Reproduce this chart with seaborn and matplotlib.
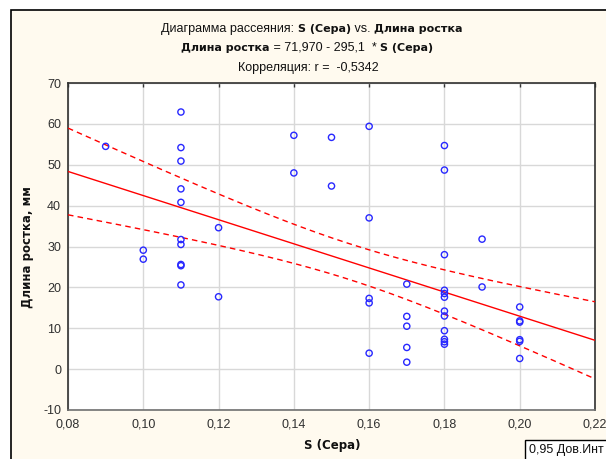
import numpy as np
import pandas as pd
import matplotlib
matplotlib.use("Agg")
import matplotlib.pyplot as plt
import seaborn as sns
from matplotlib.patches import Rectangle
from matplotlib.ticker import FuncFormatter

# ---- data ----
sulfur = [0.09,
          0.10, 0.10,
          0.11, 0.11, 0.11, 0.11, 0.11, 0.11, 0.11, 0.11, 0.11, 0.11,
          0.12, 0.12,
          0.14, 0.14,
          0.15, 0.15,
          0.16, 0.16, 0.16, 0.16, 0.16,
          0.17, 0.17, 0.17, 0.17, 0.17,
          0.18, 0.18, 0.18, 0.18, 0.18, 0.18, 0.18, 0.18, 0.18, 0.18, 0.18, 0.18,
          0.19, 0.19,
          0.20, 0.20, 0.20, 0.20, 0.20, 0.20]
length = [54.5,
          29.1, 26.9,
          62.9, 54.2, 50.9, 44.1, 40.8, 31.7, 30.5, 25.6, 25.3, 20.6,
          34.6, 17.7,
          57.2, 48.0,
          56.7, 44.8,
          59.4, 37.0, 17.3, 16.2, 3.9,
          20.8, 12.9, 10.5, 5.3, 1.7,
          54.7, 48.7, 28.0, 19.3, 18.5, 17.6, 14.2, 13.0, 9.4, 7.3, 6.7, 6.1,
          31.8, 20.1,
          15.2, 11.8, 11.5, 7.2, 6.8, 2.6]
intercept = 71.970
slope = -295.1
t_crit = 2.012  # t(0.975, df=47)
x_ticks = [0.08, 0.10, 0.12, 0.14, 0.16, 0.18, 0.20, 0.22]
y_ticks = [-10, 0, 10, 20, 30, 40, 50, 60, 70]

df = pd.DataFrame({"S": sulfur, "L": length})

# regression line and 95% confidence band
x = np.asarray(sulfur)
y = np.asarray(length)
n = len(x)
resid = y - (intercept + slope * x)
s_err = np.sqrt(np.sum(resid ** 2) / (n - 2))
xbar = x.mean()
sxx = np.sum((x - xbar) ** 2)
xg = np.linspace(x_ticks[0], x_ticks[-1], 200)
yg = intercept + slope * xg
half = t_crit * s_err * np.sqrt(1.0 / n + (xg - xbar) ** 2 / sxx)
lines = pd.DataFrame({"x": xg, "fit": yg, "lo": yg - half, "hi": yg + half})

sns.set_theme(style="white")
plt.rcParams["font.family"] = ["Liberation Sans", "DejaVu Sans"]

W, H = 606, 459
fig = plt.figure(figsize=(W / 100, H / 100), dpi=100)
fig.patch.set_facecolor("white")
cream = "#fffaef"
fig.patches.append(Rectangle((11 / W, -0.1), 1.2, (H - 10) / H + 0.1,
                             transform=fig.transFigure, facecolor=cream,
                             edgecolor="black", linewidth=1.2, zorder=-10))

ax = fig.add_axes([68 / W, 1 - 410 / H, (595 - 68) / W, (410 - 83) / H])
ax.set_facecolor("white")

ax.grid(True, color="#d8d8d8", linewidth=1.0)
ax.set_axisbelow(True)

sns.lineplot(data=lines, x="x", y="fit", ax=ax, color="#ff0000", linewidth=1.0,
             zorder=3)
for col in ["lo", "hi"]:
    sns.lineplot(data=lines, x="x", y=col, ax=ax, color="#ff0000", linewidth=1.0,
                 linestyle=(0, (4, 3)), zorder=3)

sns.scatterplot(data=df, x="S", y="L", ax=ax, marker="o", s=20,
                facecolors="none", edgecolor="#2828ff", linewidth=1.0, zorder=4)

ax.set_xlim(x_ticks[0], x_ticks[-1])
ax.set_ylim(y_ticks[0], y_ticks[-1])
ax.set_xticks(x_ticks)
ax.set_yticks(y_ticks)
ax.xaxis.set_major_formatter(FuncFormatter(lambda v, p: f"{v:.2f}".replace(".", ",")))
ax.yaxis.set_major_formatter(FuncFormatter(lambda v, p: f"{v:.0f}"))
ax.tick_params(axis="both", direction="in", length=3, width=1, color="#333333",
               labelsize=9, labelcolor="#303030", top=True, right=False)
ax.tick_params(axis="x", pad=6)
ax.tick_params(axis="y", pad=5)

for side in ["top", "left", "right"]:
    ax.spines[side].set_color("#303030")
    ax.spines[side].set_linewidth(1.2)
ax.spines["bottom"].set_color("#707070")
ax.spines["bottom"].set_linewidth(1.2)

ax.set_xlabel("")
ax.set_ylabel("")
fig.text(332 / W, 1 - 446 / H, "S (Сера)", ha="center", va="center",
         fontsize=8.5, fontweight="bold", family=["DejaVu Sans"], color="#111111")
fig.text(28 / W, 1 - 247 / H, "Длина ростка, мм", ha="center", va="center",
         rotation=90, fontsize=8.5, fontweight="bold", family=["DejaVu Sans"],
         color="#111111")

# Title lines made of mixed normal/bold pieces
fig.canvas.draw()
renderer = fig.canvas.get_renderer()


def mixed_line(pieces, cx, cy):
    objs = []
    for txt, bold in pieces:
        t = fig.text(0, cy, txt, fontsize=8 if bold else 9,
                     fontweight="bold" if bold else "normal",
                     family=["DejaVu Sans"] if bold else ["Liberation Sans"],
                     color="#111111", va="center", ha="left")
        objs.append(t)
    widths = [o.get_window_extent(renderer).width for o in objs]
    total = sum(widths)
    xpos = cx - total / 2
    for o, w in zip(objs, widths):
        o.set_position((xpos / W, cy))
        xpos += w


mixed_line([("Диаграмма рассеяния: ", False), ("S (Сера)", True),
            (" vs. ", False), ("Длина ростка", True)], 312, 1 - 29 / H)
mixed_line([("Длина ростка", True), (" = 71,970 - 295,1  * ", False),
            ("S (Сера)", True)], 307, 1 - 48 / H)
mixed_line([("Корреляция: r =  -0,5342", False)], 308, 1 - 68 / H)

# confidence-interval legend box
fig.patches.append(Rectangle((525 / W, -0.05), 0.5, (19 / H) + 0.05,
                             transform=fig.transFigure, facecolor="white",
                             edgecolor="black", linewidth=1.0, zorder=5))
fig.text(529 / W, 1 - 450 / H, "0,95 Дов.Инт", ha="left", va="center",
         fontsize=9, color="#111111", zorder=6)

fig.savefig("out.png", dpi=100, facecolor=fig.get_facecolor())
